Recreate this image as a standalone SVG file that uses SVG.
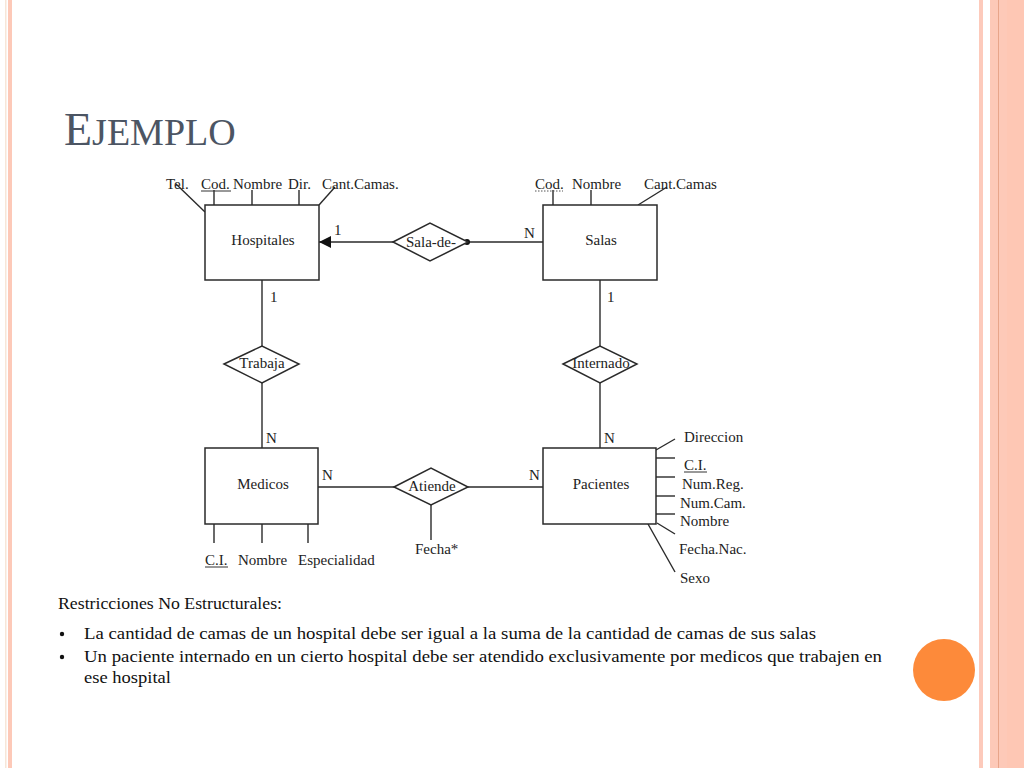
<svg xmlns="http://www.w3.org/2000/svg" width="1024" height="768" viewBox="0 0 1024 768">
<defs>
<style>
.t{font-family:"Liberation Serif","Times New Roman",serif;font-size:15px;fill:#222}
.c{text-anchor:middle}
.ln{stroke:#2a2a2a;stroke-width:1.4;fill:none}
.box{stroke:#2a2a2a;stroke-width:1.5;fill:#fff}
.b{font-family:"Liberation Serif","Times New Roman",serif;font-size:16.5px;fill:#111}
</style>
<marker id="ah" viewBox="0 0 12 12" refX="12" refY="6" markerWidth="12" markerHeight="12" markerUnits="userSpaceOnUse" orient="auto">
<path d="M0,0 L12,6 L0,12 z" fill="#111"/>
</marker>
</defs>
<rect width="1024" height="768" fill="#fff"/>
<!-- frame stripes -->
<rect x="5" y="0" width="1.5" height="768" fill="#f7e6d8"/>
<rect x="8" y="0" width="4" height="768" fill="#fdc9b8"/>
<rect x="979" y="0" width="4" height="768" fill="#fdcabb"/>
<rect x="990" y="0" width="34" height="768" fill="#fdc9b8"/>
<rect x="998" y="0" width="1" height="768" fill="#e8a58a"/>
<rect x="1007" y="0" width="17" height="768" fill="#fec7b4"/>
<circle cx="944" cy="670" r="31" fill="#fd8a3a"/>
<!-- title -->
<text x="64" y="145" font-family="'Liberation Serif','Times New Roman',serif" fill="#4c5563"><tspan font-size="46">E</tspan><tspan font-size="38">JEMPLO</tspan></text>

<g id="connectors">
<line class="ln" x1="543" y1="242" x2="319" y2="242" marker-end="url(#ah)"/>
<circle cx="467" cy="242" r="3" fill="#111"/>
<line class="ln" x1="262" y1="280" x2="262" y2="448"/>
<line class="ln" x1="600" y1="280" x2="600" y2="448"/>
<line class="ln" x1="318" y1="487" x2="543" y2="487"/>
<line class="ln" x1="431" y1="505" x2="431" y2="540"/>
<!-- Hospitales attrs -->
<line class="ln" x1="176" y1="184" x2="205" y2="212"/>
<line class="ln" x1="214" y1="190" x2="214" y2="205"/>
<line class="ln" x1="252" y1="190" x2="252" y2="205"/>
<line class="ln" x1="299" y1="190" x2="299" y2="205"/>
<line class="ln" x1="319" y1="205" x2="335" y2="187"/>
<!-- Salas attrs -->
<line class="ln" x1="553" y1="190" x2="553" y2="205"/>
<line class="ln" x1="591" y1="190" x2="591" y2="205"/>
<line class="ln" x1="638" y1="205" x2="667" y2="187"/>
<!-- Medicos attrs -->
<line class="ln" x1="214" y1="524" x2="214" y2="543"/>
<line class="ln" x1="262" y1="524" x2="262" y2="543"/>
<line class="ln" x1="308" y1="524" x2="308" y2="543"/>
<!-- Pacientes attrs -->
<line class="ln" x1="656" y1="450" x2="675" y2="439"/>
<line class="ln" x1="656" y1="458" x2="675" y2="458"/>
<line class="ln" x1="656" y1="477" x2="675" y2="477"/>
<line class="ln" x1="656" y1="496" x2="675" y2="496"/>
<line class="ln" x1="656" y1="514" x2="675" y2="514"/>
<line class="ln" x1="657" y1="523" x2="675" y2="534"/>
<line class="ln" x1="648" y1="524" x2="675" y2="572"/>
</g>

<g id="hospitales">
<rect class="box" x="205" y="205" width="114" height="75"/>
<text class="t c" x="263" y="245">Hospitales</text>
</g>
<g id="salas">
<rect class="box" x="543" y="205" width="114" height="75"/>
<text class="t c" x="601" y="245">Salas</text>
</g>
<g id="medicos">
<rect class="box" x="205" y="448" width="113" height="76"/>
<text class="t c" x="263" y="489">Medicos</text>
</g>
<g id="pacientes">
<rect class="box" x="543" y="448" width="113" height="76"/>
<text class="t c" x="601" y="489">Pacientes</text>
</g>
<g id="sala-de">
<polygon class="box" points="393,242 430,223 468,242 430,261"/>
<text class="t c" x="431" y="247">Sala-de-</text>
</g>
<g id="trabaja">
<polygon class="box" points="224,364 262,346 299,364 262,383"/>
<text class="t c" x="262" y="368">Trabaja</text>
</g>
<g id="internado">
<polygon class="box" points="563,364 600,346 637,364 600,383"/>
<text class="t c" x="601" y="368">Internado</text>
</g>
<g id="atiende">
<polygon class="box" points="394,487 431,468 468,487 431,505"/>
<text class="t c" x="432" y="491">Atiende</text>
</g>

<g id="labels">
<text class="t" x="334" y="235">1</text>
<text class="t" x="524" y="238">N</text>
<text class="t" x="270" y="302">1</text>
<text class="t" x="266" y="443">N</text>
<text class="t" x="607" y="302">1</text>
<text class="t" x="604" y="443">N</text>
<text class="t" x="322" y="480">N</text>
<text class="t" x="529" y="480">N</text>
</g>

<g id="attributes">
<text class="t" x="166" y="189">Tel.</text>
<text class="t" x="201" y="189">Cod.</text>
<line x1="201" y1="191" x2="231" y2="191" stroke="#333" stroke-width="1"/>
<text class="t" x="233" y="189">Nombre</text>
<text class="t" x="288" y="189">Dir.</text>
<text class="t" x="322" y="189">Cant.Camas.</text>
<text class="t" x="535" y="189">Cod.</text>
<line x1="535" y1="191" x2="563" y2="191" stroke="#555" stroke-width="1" stroke-dasharray="1.5,1.5"/>
<text class="t" x="572" y="189">Nombre</text>
<text class="t" x="644" y="189">Cant.Camas</text>
<text class="t" x="205" y="565">C.I.</text>
<line x1="205" y1="567" x2="228" y2="567" stroke="#333" stroke-width="1"/>
<text class="t" x="238" y="565">Nombre</text>
<text class="t" x="298" y="565">Especialidad</text>
<text class="t" x="415" y="554">Fecha*</text>
<text class="t" x="684" y="442">Direccion</text>
<text class="t" x="684" y="470">C.I.</text>
<line x1="684" y1="472" x2="707" y2="472" stroke="#333" stroke-width="1"/>
<text class="t" x="682" y="489">Num.Reg.</text>
<text class="t" x="680" y="508">Num.Cam.</text>
<text class="t" x="680" y="526">Nombre</text>
<text class="t" x="679" y="554">Fecha.Nac.</text>
<text class="t" x="680" y="583">Sexo</text>
</g>

<g id="restricciones">
<text class="b" x="58" y="609" textLength="224" lengthAdjust="spacingAndGlyphs">Restricciones No Estructurales:</text>
<circle cx="62" cy="634" r="2.2" fill="#111"/>
<circle cx="62" cy="657" r="2.2" fill="#111"/>
<text class="b" x="84" y="639" textLength="732" lengthAdjust="spacingAndGlyphs">La cantidad de camas de un hospital debe ser igual a la suma de la cantidad de camas de sus salas</text>
<text class="b" x="84" y="662" textLength="798" lengthAdjust="spacingAndGlyphs">Un paciente internado en un cierto hospital debe ser atendido exclusivamente por medicos que trabajen en</text>
<text class="b" x="84" y="683" textLength="87" lengthAdjust="spacingAndGlyphs">ese hospital</text>
</g>
</svg>
